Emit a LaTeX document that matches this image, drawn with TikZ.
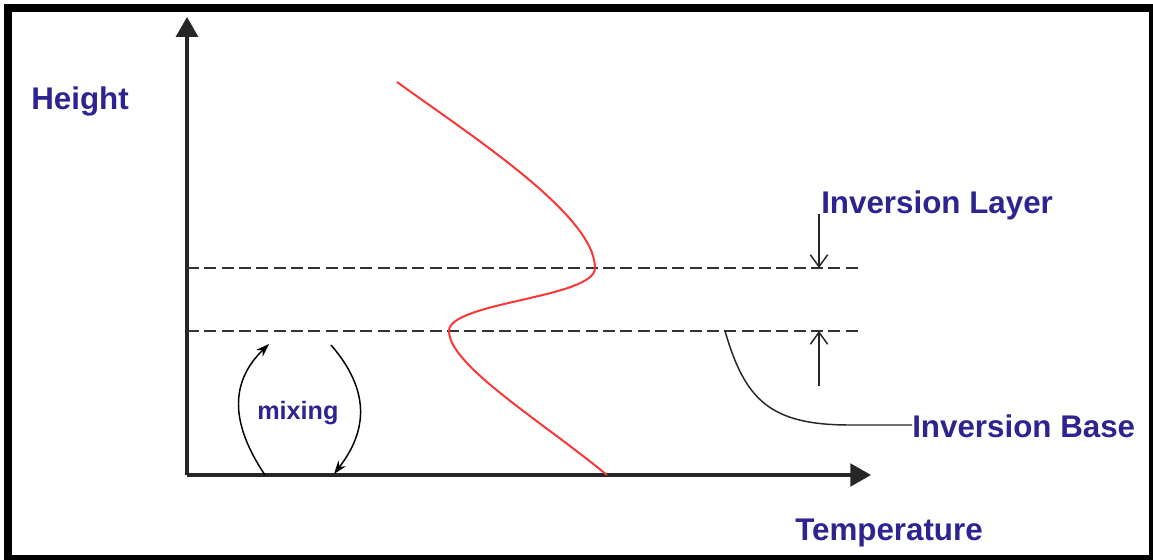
\documentclass[tikz,border=0pt]{standalone}
\usepackage{fontspec}
\setmainfont{Liberation Sans}
\usetikzlibrary{arrows.meta}
\definecolor{labelblue}{RGB}{45,35,145}
\definecolor{curvered}{RGB}{250,55,55}
\definecolor{dashgray}{RGB}{50,50,50}
\begin{document}
\begin{tikzpicture}[x=0.75pt,y=-0.75pt,
  biglabel/.style={font=\fontsize{23.5}{27}\selectfont\bfseries, text=labelblue, inner sep=0pt, anchor=base west},
  smalllabel/.style={font=\fontsize{18.9}{22}\selectfont\bfseries, text=labelblue, inner sep=0pt, anchor=base west},
  axisline/.style={line width=2.4pt, black!85},
  levelline/.style={line width=1.7pt, dashgray, dash pattern=on 9pt off 4pt},
  mixarrow/.style={line width=1.1pt, -{Stealth[length=10pt,width=7pt]}},
  markarrow/.style={line width=1.1pt, black!85, -{Straight Barb[length=9pt,width=13pt]}},
  leader/.style={line width=1.1pt, black!85},
  profile/.style={line width=1.5pt, curvered}]
\useasboundingbox (0,0) rectangle (1153,560);
% frame
\fill[black] (4,4) rectangle (1153,560);
\fill[white] (12,12) rectangle (1149,555);
% coordinates
\coordinate (O) at (187,475);
\coordinate (ytip) at (187,17);
\coordinate (xtip) at (871,475);
\coordinate (topL) at (187,268);
\coordinate (topR) at (858,268);
\coordinate (botL) at (187,331);
\coordinate (botR) at (858,331);
% axes
\draw[axisline, -{Triangle[length=15pt,width=16.5pt]}] (O) -- (ytip);
\draw[axisline, -{Triangle[length=15.5pt,width=17pt]}] (O) -- (xtip);
% inversion levels
\draw[levelline] (topL) -- (topR);
\draw[levelline] (botL) -- (botR);
% temperature profile
\coordinate (p0) at (397,82);
\coordinate (p1) at (595,268);
\coordinate (p2) at (449,331);
\coordinate (p3) at (607,475);
\draw[profile] (p0) .. controls (470,135) and (595,215) .. (p1)
  .. controls (595,298) and (449,302) .. (p2)
  .. controls (449,365) and (540,420) .. (p3);
% mixing
\node[smalllabel] (mix) at (257,419) {mixing};
\coordinate (m1a) at (265,475);
\coordinate (m1b) at (269,344);
\coordinate (m2a) at (331,345);
\coordinate (m2b) at (334,474);
\draw[mixarrow] (m1a) .. controls (228,420) and (232,380) .. (m1b);
\draw[mixarrow] (m2a) .. controls (370,390) and (368,430) .. (m2b);
% labels
\node[biglabel] (height) at (31,109) {Height};
\node[biglabel] (temp) at (795,540) {Temperature};
\node[biglabel] (invlayer) at (821,213) {Inversion Layer};
\node[biglabel] (invbase) at (912,437) {Inversion Base};
% inversion layer marker arrows
\coordinate (a1) at (819,214);
\coordinate (a1e) at (819,268);
\coordinate (a2) at (819,386);
\coordinate (a2e) at (819,331);
\draw[markarrow] (a1) -- (a1e);
\draw[markarrow] (a2) -- (a2e);
% inversion base leader
\coordinate (b0) at (725,331);
\coordinate (b1) at (850,425);
\draw[leader] (b0) .. controls (745,400) and (770,425) .. (b1) -- (invbase.west |- 0,425);
\end{tikzpicture}
\end{document}
